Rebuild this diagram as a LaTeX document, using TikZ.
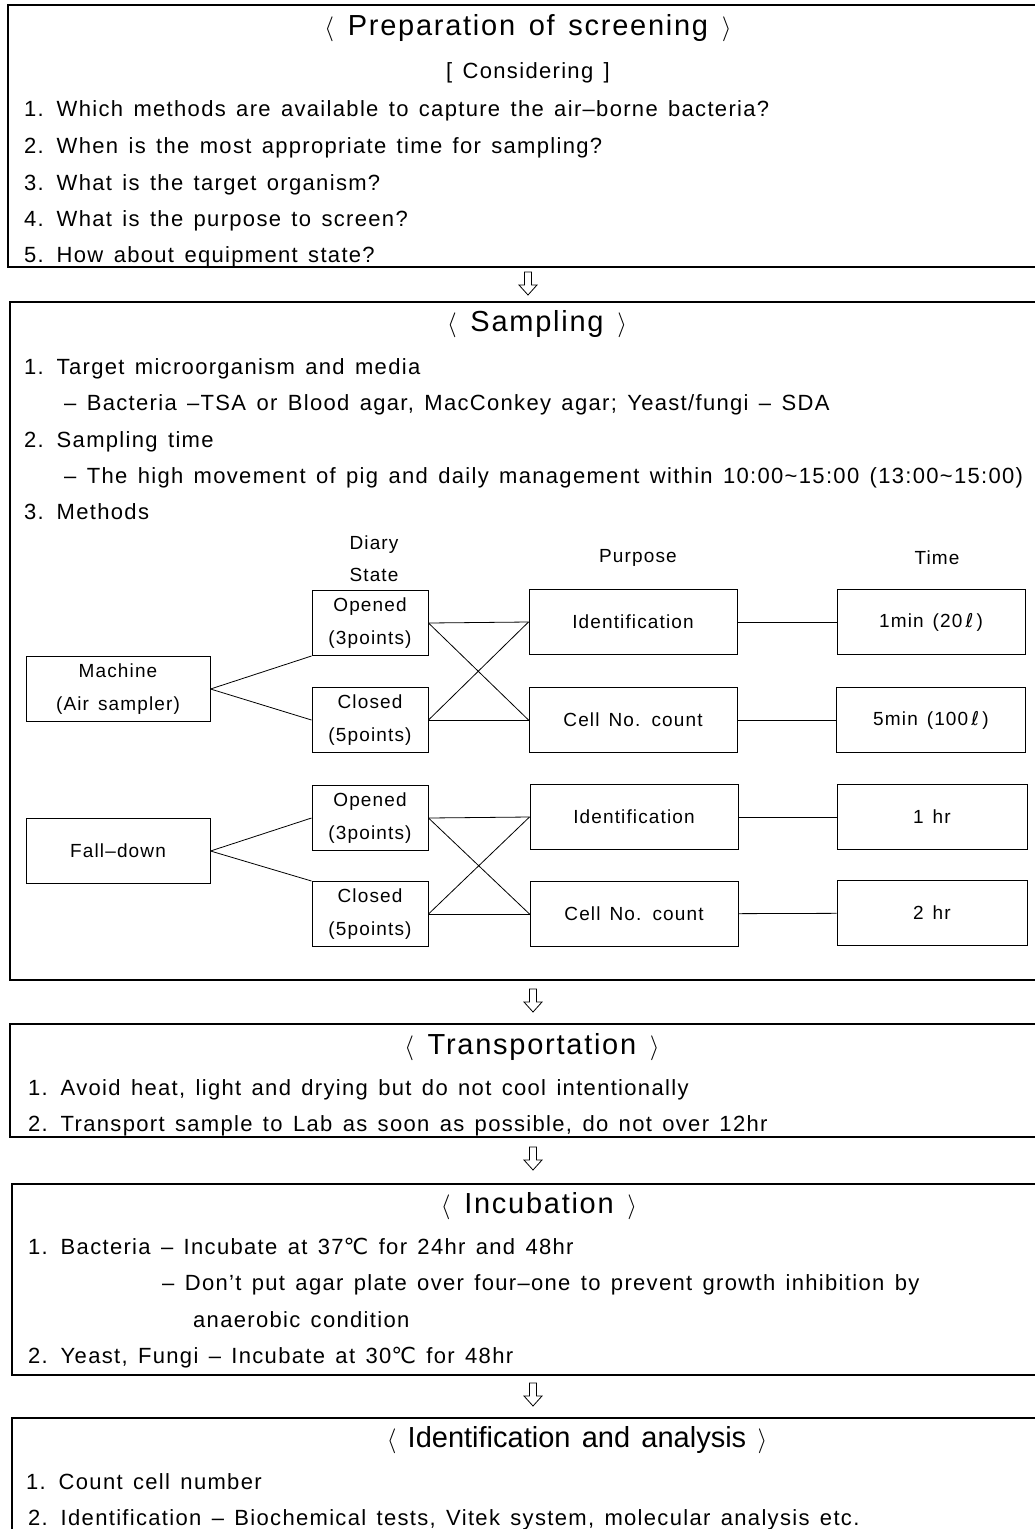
\documentclass[tikz,border=0pt]{standalone}
\usepackage{fontspec}
\setmainfont{Liberation Sans}[LetterSpace=6,WordSpace=1.4]
\newfontfamily\symfont{DejaVu Sans}
\usetikzlibrary{positioning}

\begin{document}
\begin{tikzpicture}[x=1pt, y=-1pt,
    frame/.style={line width=1.4pt},
    sec_title/.style={font=\fontsize{29}{32}\selectfont, inner sep=0pt, text height=20.8pt, text depth=0pt},
    item/.style={font=\fontsize{22}{25}\selectfont, anchor=west, inner sep=0pt, text height=15.8pt, text depth=0pt},
    head/.style={font=\fontsize{19}{32}\selectfont, inner sep=0pt, align=center},
    mbox/.style={draw, line width=1pt, minimum height=65pt, inner sep=0pt, align=center, font=\fontsize{19}{33}\selectfont},
    link/.style={line width=0.8pt},
    flowarrow/.pic={\draw[line width=0.8pt, fill=white] (-3.5,-13) -- (3.5,-13) -- (3.5,0) -- (9,0) -- (0,10) -- (-9,0) -- (-3.5,0) -- cycle;}
]
    \useasboundingbox (0,0) rectangle (1034,1529);
    \def\degc{{\symfont ℃}}

    % ========== Preparation ==========
    \draw[frame] (1045,5) -- (8,5) -- (8,267) -- (1045,267);
    \node[sec_title] (prep_title) at (528,25) {$\langle$ Preparation of screening $\rangle$};
    \node[item, anchor=center] (prep_sub) at (528,71) {[ Considering ]};
    \node[item] (prep_q1) at (24,109) {1. Which methods are available to capture the air–borne bacteria?};
    \node[item] (prep_q2) at (24,146) {2. When is the most appropriate time for sampling?};
    \node[item] (prep_q3) at (24,183) {3. What is the target organism?};
    \node[item] (prep_q4) at (24,219) {4. What is the purpose to screen?};
    \node[item] (prep_q5) at (24,255) {5. How about equipment state?};
    \pic at (528,285) {flowarrow};

    % ========== Sampling ==========
    \draw[frame] (1045,302) -- (10,302) -- (10,980) -- (1045,980);
    \node[sec_title] (samp_title) at (537,321) {$\langle$ Sampling $\rangle$};
    \node[item] (samp_1) at (24,367) {1. Target microorganism and media};
    \node[item] (samp_1a) at (64,403) {– Bacteria –TSA or Blood agar, MacConkey agar; Yeast/fungi – SDA};
    \node[item] (samp_2) at (24,440) {2. Sampling time};
    \node[item] (samp_2a) at (64,476) {– The high movement of pig and daily management within 10:00\textasciitilde 15:00 (13:00\textasciitilde 15:00)};
    \node[item] (samp_3) at (24,512) {3. Methods};

    % column heads
    \node[head] (hd_state) at (374,559) {Diary\\State};
    \node[head] (hd_purpose) at (638,558) {Purpose};
    \node[head] (hd_time) at (937,558) {Time};

    % machine row
    \node[mbox, minimum width=184pt] (mach) at (118,689) {Machine\\(Air sampler)};
    \node[mbox, minimum width=116pt] (open_a) at (370,623) {Opened\\(3points)};
    \node[mbox, minimum width=116pt] (close_a) at (370,720) {Closed\\(5points)};
    \node[mbox, minimum width=208pt] (ident_a) at (633,622) {Identification};
    \node[mbox, minimum width=208pt] (count_a) at (633,720) {Cell No. count};
    \node[mbox, minimum width=188pt] (time_a) at (931,622) {1min (20\,{\symfont ℓ}\,)};
    \node[mbox, minimum width=189pt] (time_b) at (931,720) {5min (100\,{\symfont ℓ}\,)};

    % fall-down row
    \node[mbox, minimum width=184pt] (fall) at (118,851) {Fall–down};
    \node[mbox, minimum width=116pt] (open_b) at (370,818) {Opened\\(3points)};
    \node[mbox, minimum width=116pt] (close_b) at (370,914) {Closed\\(5points)};
    \node[mbox, minimum width=208pt] (ident_b) at (634,817) {Identification};
    \node[mbox, minimum width=208pt] (count_b) at (634,914) {Cell No. count};
    \node[mbox, minimum width=190pt] (time_c) at (932,817) {1 hr};
    \node[mbox, minimum width=190pt] (time_d) at (932,913) {2 hr};

    % links
    \draw[link] (mach.east) -- (open_a.south west);
    \draw[link] (mach.east) -- (close_a.west);
    \foreach \s in {open_a, close_a}
        \foreach \t in {ident_a, count_a}
            \draw[link] (\s.east) -- (\t.west);
    \draw[link] (ident_a) -- (time_a);
    \draw[link] (count_a) -- (time_b);

    \draw[link] (fall.east) -- (open_b.west);
    \draw[link] (fall.east) -- (close_b.north west);
    \foreach \s in {open_b, close_b}
        \foreach \t in {ident_b, count_b}
            \draw[link] (\s.east) -- (\t.west);
    \draw[link] (ident_b) -- (time_c);
    \draw[link] (count_b) -- (time_d);
    \pic at (533,1002) {flowarrow};

    % ========== Transportation ==========
    \draw[frame] (1045,1024) -- (10,1024) -- (10,1137) -- (1045,1137);
    \node[sec_title] (trans_title) at (532,1044) {$\langle$ Transportation $\rangle$};
    \node[item] (trans_1) at (28,1088) {1. Avoid heat, light and drying but do not cool intentionally};
    \node[item] (trans_2) at (28,1124) {2. Transport sample to Lab as soon as possible, do not over 12hr};
    \pic at (533,1160) {flowarrow};

    % ========== Incubation ==========
    \draw[frame] (1045,1184) -- (12,1184) -- (12,1375) -- (1045,1375);
    \node[sec_title] (inc_title) at (539,1203) {$\langle$ Incubation $\rangle$};
    \node[item] (inc_1) at (28,1247) {1. Bacteria – Incubate at 37\degc{} for 24hr and 48hr};
    \node[item] (inc_1a) at (162,1283) {– Don't put agar plate over four–one to prevent growth inhibition by};
    \node[item] (inc_1b) at (193,1320) {anaerobic condition};
    \node[item] (inc_2) at (28,1356) {2. Yeast, Fungi – Incubate at 30\degc{} for 48hr};
    \pic at (533,1396) {flowarrow};

    % ========== Identification ==========
    \draw[frame] (1045,1418) -- (12,1418) -- (12,1545);
    \node[sec_title] (id_title) at (577,1437) {\addfontfeatures{LetterSpace=0}$\langle$ Identification and analysis $\rangle$};
    \node[item] (id_1) at (26,1482) {1. Count cell number};
    \node[item] (id_2) at (28,1518) {2. Identification – Biochemical tests, Vitek system, molecular analysis etc.};
\end{tikzpicture}
\end{document}
